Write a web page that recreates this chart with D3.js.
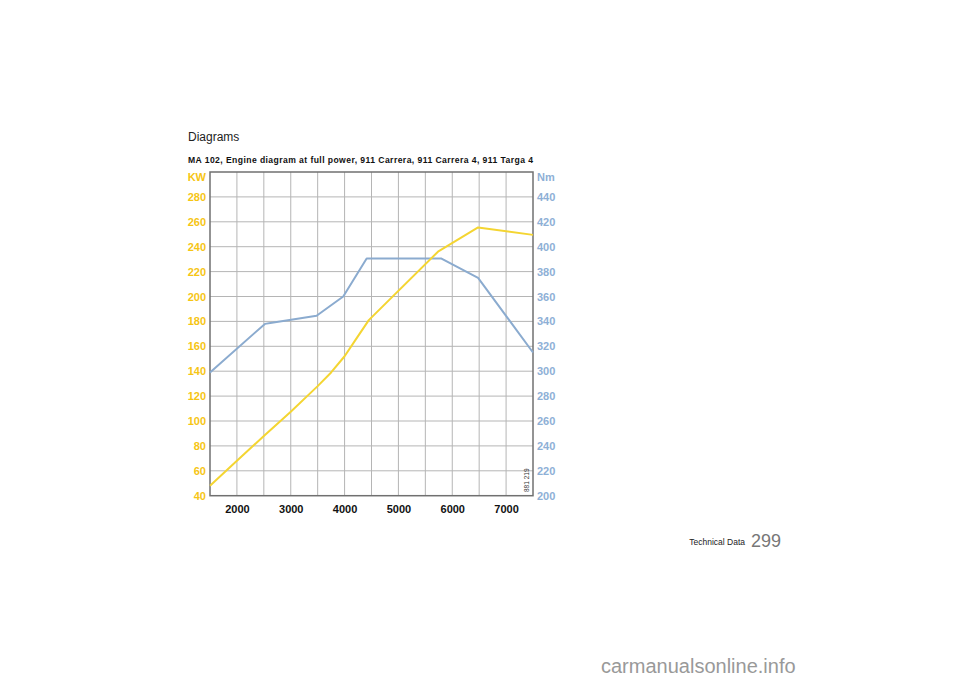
<!DOCTYPE html>
<html><head><meta charset="utf-8">
<script src="https://cdn.jsdelivr.net/npm/d3@7/dist/d3.min.js"></script>
<style>body{margin:0;background:#fff}svg{display:block}</style>
</head><body>
<svg id="c" width="960" height="678"></svg>
<script>
// Data
const torqueRpm = [1500, 2520, 2650, 3480, 3975, 4410, 5800, 6480, 7500];
const torqueNm  = [299, 338, 339, 344.5, 360, 390.5, 390.5, 375, 315];
const powerRpm = [1500, 2000, 2500, 3000, 3500, 3750, 4000, 4200, 4450, 5735, 6480, 7500];
const powerKW  = [48, 68, 88, 107.5, 128, 139, 152, 165, 181, 236, 255.5, 249.5];
const xTicks = [2000, 3000, 4000, 5000, 6000, 7000];
const kwTicks = [40, 60, 80, 100, 120, 140, 160, 180, 200, 220, 240, 260, 280];
const nmTicks = [200, 220, 240, 260, 280, 300, 320, 340, 360, 380, 400, 420, 440];

const svg = d3.select('#c');
const L = 210, R = 533, T = 172, B = 495.7;
const x = d3.scaleLinear().domain([1500, 7500]).range([L, R]);
const yKW = d3.scaleLinear().domain([40, 300]).range([B, T]);
const yNm = d3.scaleLinear().domain([200, 460]).range([B, T]);

const font = '"Liberation Sans", Arial, sans-serif';
const yellowTxt = '#f6c514', blueTxt = '#8eb0d6';

// Titles
svg.append('text').attr('x', 188).attr('y', 141).attr('font-family', font)
  .attr('font-size', 12).attr('fill', '#222').text('Diagrams');
svg.append('text').attr('x', 188).attr('y', 163).attr('font-family', font)
  .attr('font-size', 8.6).attr('font-weight', 'bold').attr('fill', '#111')
  .attr('textLength', 345).attr('lengthAdjust', 'spacing')
  .text('MA 102, Engine diagram at full power, 911 Carrera, 911 Carrera 4, 911 Targa 4');

// Grid
const grid = svg.append('g').attr('stroke', '#b5b5b5').attr('stroke-width', 1);
grid.selectAll('line.v').data(d3.range(2000, 7500, 500)).join('line')
  .attr('x1', d => x(d)).attr('x2', d => x(d)).attr('y1', T).attr('y2', B);
grid.selectAll('line.h').data(d3.range(60, 300, 20)).join('line')
  .attr('y1', d => yKW(d)).attr('y2', d => yKW(d)).attr('x1', L).attr('x2', R);

// Frame
svg.append('rect').attr('x', L).attr('y', T).attr('width', R - L).attr('height', B - T)
  .attr('fill', 'none').attr('stroke', '#707070').attr('stroke-width', 1.5);

// Axes
const axL = svg.append('g').attr('transform', `translate(${L},0)`)
  .call(d3.axisLeft(yKW).tickValues(kwTicks).tickSize(0).tickPadding(4));
const axR = svg.append('g').attr('transform', `translate(${R},0)`)
  .call(d3.axisRight(yNm).tickValues(nmTicks).tickSize(0).tickPadding(4));
const axB = svg.append('g').attr('transform', `translate(0,${B})`)
  .call(d3.axisBottom(x).tickValues(xTicks).tickFormat(d3.format('d')).tickSize(0).tickPadding(10));
[axL, axR, axB].forEach(a => { a.select('.domain').remove();
  a.selectAll('text').attr('font-family', font).attr('font-weight', 'bold').attr('font-size', 11); });
axL.selectAll('text').attr('fill', yellowTxt);
axR.selectAll('text').attr('fill', blueTxt);
axB.selectAll('text').attr('fill', '#111');

svg.append('text').attr('x', L - 4).attr('y', yKW(300) + 9).attr('text-anchor', 'end')
  .attr('font-family', font).attr('font-weight', 'bold').attr('font-size', 11)
  .attr('fill', yellowTxt).text('KW');
svg.append('text').attr('x', R + 4).attr('y', yNm(460) + 9)
  .attr('font-family', font).attr('font-weight', 'bold').attr('font-size', 11)
  .attr('fill', blueTxt).text('Nm');

// Lines
const torque = torqueRpm.map((r, i) => [r, torqueNm[i]]);
const power = powerRpm.map((r, i) => [r, powerKW[i]]);
svg.append('path').datum(torque).attr('fill', 'none').attr('stroke', '#8babcf')
  .attr('stroke-width', 2).attr('stroke-linejoin', 'round')
  .attr('d', d3.line().x(d => x(d[0])).y(d => yNm(d[1])));
svg.append('path').datum(power).attr('fill', 'none').attr('stroke', '#f4d532')
  .attr('stroke-width', 2).attr('stroke-linejoin', 'round')
  .attr('d', d3.line().x(d => x(d[0])).y(d => yKW(d[1])));

// Reference code
svg.append('text').attr('transform', `translate(529,492) rotate(-90)`)
  .attr('font-family', font).attr('font-size', 6.5).attr('fill', '#333').text('881 219');

// Footer
svg.append('text').attr('x', 745).attr('y', 545).attr('text-anchor', 'end')
  .attr('font-family', font).attr('font-size', 8.5).attr('fill', '#222').text('Technical Data');
svg.append('text').attr('x', 751).attr('y', 547)
  .attr('font-family', font).attr('font-size', 18).attr('fill', '#777').text('299');
svg.append('text').attr('x', 601).attr('y', 673)
  .attr('font-family', font).attr('font-size', 20).attr('fill', '#999')
  .text('carmanualsonline.info');
</script>
</body></html>
